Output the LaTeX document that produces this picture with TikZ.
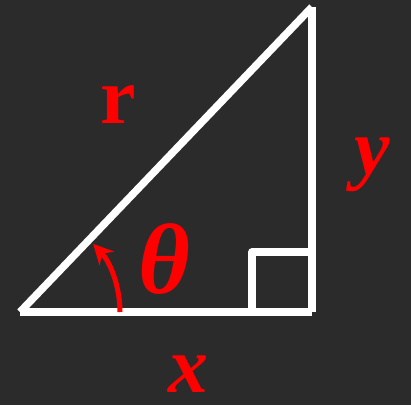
\documentclass[tikz,border=0pt]{standalone}
\usepackage{fontspec}
\setmainfont{Liberation Serif}
\usetikzlibrary{arrows.meta}
\definecolor{tafel}{RGB}{43,43,43}
\definecolor{rotlabel}{RGB}{255,0,0}
\tikzset{
	seite/.style={white, line width=7.5pt, line cap=butt},
	beschriftung/.style={text=rotlabel, inner sep=0pt, font=\fontsize{80}{80}\selectfont\bfseries}
}
\begin{document}
\begin{tikzpicture}[x=1pt,y=1pt]
		% Hintergrund (Tafel)
		\fill[tafel] (0,0) rectangle (411,405);
		\useasboundingbox (0,0) rectangle (411,405);

		% Eckpunkte des rechtwinkligen Dreiecks
		\coordinate (A) at ( 20, 93);
		\coordinate (B) at (312, 93);
		\coordinate (C) at (312,398);
		\coordinate (Q) at (252,153);
		\coordinate (W) at (120, 93);

		% Seiten
		\draw[seite] (A) -- (B);
		\draw[seite] (B) -- (C);
		\draw[seite] (A) -- (C);

		% Markierung des rechten Winkels
		\draw[seite, line join=round] (Q |- B) -- (Q) -- (Q -| B);

		% Winkelbogen mit Pfeil
		\draw[rotlabel, line width=5pt, -{Stealth[length=20pt,width=20pt]}] (W) arc[start angle=0, end angle=43, radius=100];

		% Beschriftungen
		\node[beschriftung] (r)     at (118,300) {r};
		\node[beschriftung] (y)     at (372,240) {\itshape y};
		\node[beschriftung, font=\fontsize{100}{100}\selectfont\bfseries] (theta) at (164,146) {\itshape θ};
		\node[beschriftung, text depth=0pt] (x) at (188, 31) {\itshape x};
	\end{tikzpicture}
\end{document}
